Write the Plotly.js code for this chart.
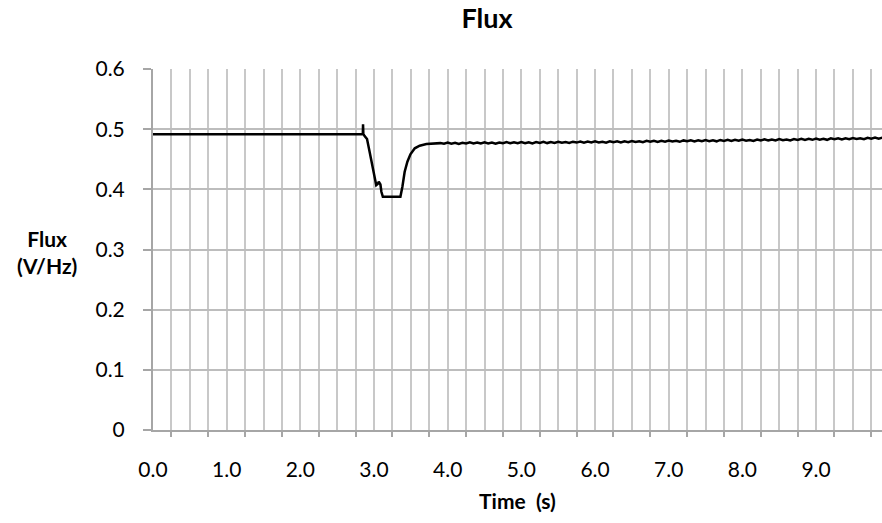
<!DOCTYPE html>
<html>
<head>
<meta charset="utf-8">
<script src="https://cdn.plot.ly/plotly-3.0.1.min.js"></script>
<style>
html,body{margin:0;padding:0;background:#fff;}
#chart{width:882px;height:523px;}
</style>
</head>
<body>
<div id="chart"></div>
<script>
// ---- data ----
var chartTitle = "Flux";
var xTitle = "Time\u00a0\u00a0(s)";
var yTitleLines = ["Flux", "(V/Hz)"];

var xTickVals = [0, 1, 2, 3, 4, 5, 6, 7, 8, 9];
var xTickText = ["0.0", "1.0", "2.0", "3.0", "4.0", "5.0", "6.0", "7.0", "8.0", "9.0"];
var yTickVals = [0, 0.1, 0.2, 0.3, 0.4, 0.5, 0.6];
var yTickText = ["0", "0.1", "0.2", "0.3", "0.4", "0.5", "0.6"];

// transient part (time in s, flux in V/Hz)
var timeA = [0, 2.848, 2.851, 2.855, 2.87, 2.905, 2.94, 2.978, 3.009, 3.03, 3.05, 3.064, 3.087, 3.10, 3.12,
             3.358, 3.385, 3.416, 3.453, 3.494, 3.553, 3.62, 3.711, 3.80, 3.85];
var fluxA = [0.4914, 0.4914, 0.508, 0.492, 0.489, 0.4836, 0.4626, 0.4404, 0.421, 0.407, 0.409, 0.4127, 0.408, 0.396, 0.3877,
             0.3877, 0.4044, 0.4293, 0.446, 0.4582, 0.4682, 0.4725, 0.4753, 0.4762, 0.4758];

// slowly recovering tail
var timeB = [3.90,3.95,4.00,4.05,4.10,4.15,4.20,4.25,4.30,4.35,4.40,4.45,4.50,4.55,4.60,4.65,4.70,4.75,4.80,4.85,
             4.90,4.95,5.00,5.05,5.10,5.15,5.20,5.25,5.30,5.35,5.40,5.45,5.50,5.55,5.60,5.65,5.70,5.75,5.80,5.85,
             5.90,5.95,6.00,6.05,6.10,6.15,6.20,6.25,6.30,6.35,6.40,6.45,6.50,6.55,6.60,6.65,6.70,6.75,6.80,6.85,
             6.90,6.95,7.00,7.05,7.10,7.15,7.20,7.25,7.30,7.35,7.40,7.45,7.50,7.55,7.60,7.65,7.70,7.75,7.80,7.85,
             7.90,7.95,8.00,8.05,8.10,8.15,8.20,8.25,8.30,8.35,8.40,8.45,8.50,8.55,8.60,8.65,8.70,8.75,8.80,8.85,
             8.90,8.95,9.00,9.05,9.10,9.15,9.20,9.25,9.30,9.35,9.40,9.45,9.50,9.55,9.60,9.65,9.70,9.75,9.80,9.85,9.90];
var fluxB = [0.4768,0.4757,0.4777,0.4760,0.4775,0.4756,0.4774,0.4763,0.4780,0.4761,0.4778,0.4762,0.4781,0.4764,0.4776,0.4759,0.4779,0.4767,0.4784,0.4765,
             0.4781,0.4766,0.4786,0.4768,0.4783,0.4764,0.4785,0.4771,0.4788,0.4769,0.4787,0.4772,0.4791,0.4774,0.4786,0.4770,0.4792,0.4777,0.4794,0.4775,
             0.4793,0.4778,0.4797,0.4780,0.4792,0.4776,0.4798,0.4783,0.4800,0.4781,0.4800,0.4785,0.4804,0.4787,0.4799,0.4783,0.4806,0.4791,0.4808,0.4789,
             0.4807,0.4792,0.4811,0.4794,0.4806,0.4790,0.4813,0.4798,0.4815,0.4796,0.4814,0.4799,0.4818,0.4801,0.4814,0.4798,0.4821,0.4806,0.4823,0.4804,
             0.4822,0.4807,0.4826,0.4809,0.4821,0.4805,0.4828,0.4813,0.4830,0.4811,0.4829,0.4814,0.4834,0.4817,0.4829,0.4813,0.4837,0.4822,0.4839,0.4820,
             0.4838,0.4823,0.4843,0.4826,0.4839,0.4823,0.4847,0.4832,0.4850,0.4830,0.4848,0.4834,0.4853,0.4837,0.4849,0.4833,0.4857,0.4842,0.4860,0.4840,0.4858];

var time = timeA.concat(timeB);
var flux = fluxA.concat(fluxB);

// ---- chart ----
var FONT = "Lato, 'Open Sans', sans-serif";
var AXIS_GRAY = "#a6a6a6";

var traces = [
  {
    x: time, y: flux, type: "scatter", mode: "lines",
    line: {color: "#000000", width: 2.5},
    hoverinfo: "x+y", showlegend: false
  },
  {
    x: [], y: [], xaxis: "x2", yaxis: "y", type: "scatter", mode: "lines",
    hoverinfo: "skip", showlegend: false
  }
];

var layout = {
  width: 882, height: 523,
  paper_bgcolor: "#ffffff", plot_bgcolor: "#ffffff",
  margin: {l: 153, r: 0, t: 69, b: 93, pad: 0},
  font: {family: FONT, size: 21, color: "#000000"},
  showlegend: false,
  title: {
    text: "<b>" + chartTitle + "</b>",
    font: {family: FONT, size: 27, color: "#000000"},
    xref: "container", yref: "container",
    x: 487 / 882, y: 1 - 19 / 523, xanchor: "center", yanchor: "middle"
  },
  xaxis: {
    range: [0, 9.895],
    tickmode: "array", tickvals: xTickVals, ticktext: xTickText,
    ticks: "", showgrid: true, gridcolor: "#c8c8c8", gridwidth: 2,
    minor: {tickmode: "linear", tick0: 0, dtick: 0.25, showgrid: true, gridcolor: "#c8c8c8", gridwidth: 2, ticks: ""},
    showline: true, linecolor: AXIS_GRAY, linewidth: 2,
    zeroline: false,
    tickfont: {family: FONT, size: 21, color: "#000000"},
    ticklabelstandoff: 20,
    title: {text: "<b>" + xTitle + "</b>", font: {family: FONT, size: 21, color: "#000000"}, standoff: 14},
    automargin: false,
    fixedrange: true
  },
  xaxis2: {
    overlaying: "x", anchor: "y", side: "bottom",
    range: [0, 9.895],
    tickmode: "linear", tick0: 0.25, dtick: 0.5,
    ticks: "outside", ticklen: 6, tickwidth: 2, tickcolor: AXIS_GRAY,
    showticklabels: false, showgrid: false, zeroline: false, showline: false,
    fixedrange: true
  },
  yaxis: {
    range: [0, 0.6],
    tickmode: "array", tickvals: yTickVals, ticktext: yTickText,
    ticks: "outside", ticklen: 8, tickwidth: 2, tickcolor: AXIS_GRAY,
    showgrid: true, gridcolor: "#bdbdbd", gridwidth: 2,
    showline: true, linecolor: AXIS_GRAY, linewidth: 2,
    zeroline: false,
    tickfont: {family: FONT, size: 21, color: "#000000"},
    ticklabelstandoff: 14,
    automargin: false,
    fixedrange: true
  },
  annotations: [
    {
      text: "<b>" + yTitleLines.join("</b><br><b>") + "</b>",
      xref: "paper", yref: "paper",
      x: (47 - 153) / 729, y: (430 - 252) / 361,
      xanchor: "center", yanchor: "middle", align: "center",
      showarrow: false,
      font: {family: FONT, size: 21, color: "#000000"}
    }
  ]
};

Plotly.newPlot("chart", traces, layout, {displayModeBar: false, staticPlot: true});
</script>
</body>
</html>
